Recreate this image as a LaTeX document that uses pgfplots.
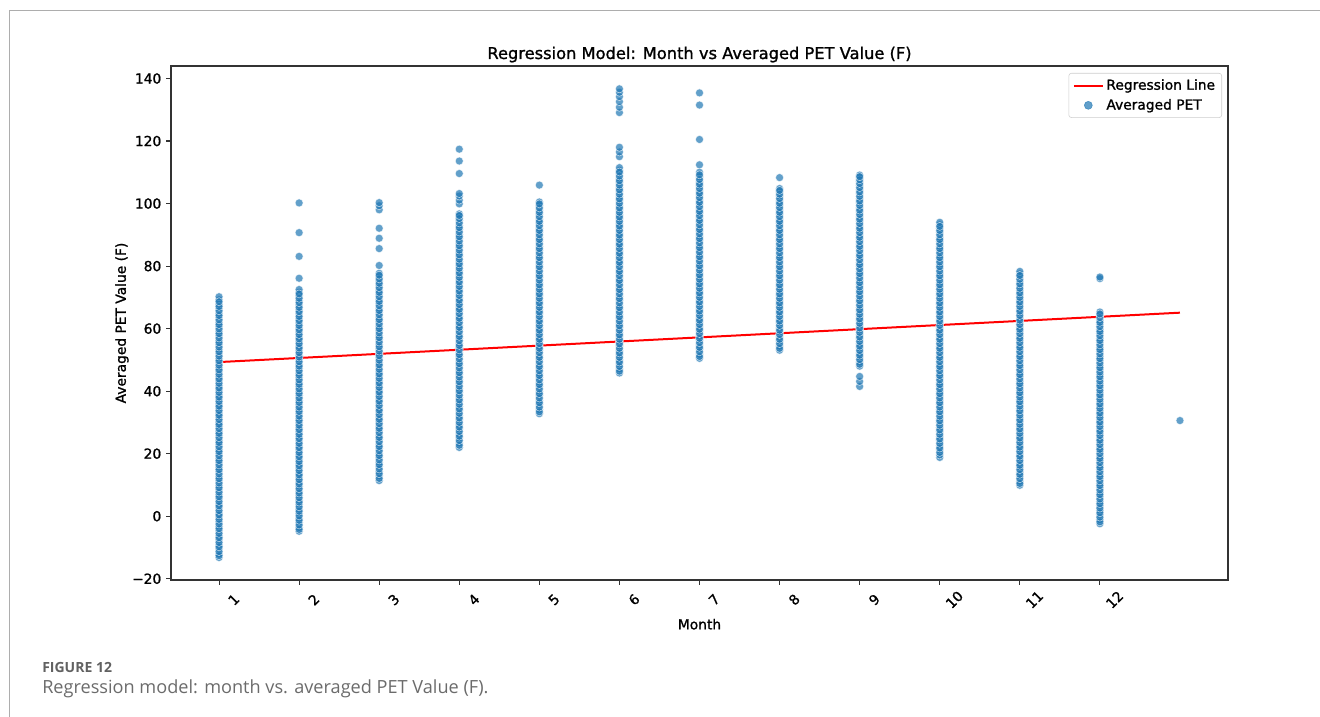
\documentclass[border=0pt]{standalone}
\usepackage{fontspec}
\setmainfont{DejaVu Sans}[FakeBold=1.2]
\newfontfamily\capfont{Open Sans}
\usepackage{pgfplots}
\pgfplotsset{compat=1.18}
\definecolor{mplblue}{HTML}{1F77B4}
\definecolor{spine}{HTML}{333333}
\begin{document}
\begin{tikzpicture}
\path[use as bounding box] (0,0) rectangle (990pt,537.75pt);
\draw[color=black!32, line width=0.75pt] (6.75pt,-2pt) -- (6.75pt,529.5pt) -- (995pt,529.5pt);
\begin{axis}[
 anchor=south west, at={(128.25pt,102.75pt)},
 width=792.75pt, height=385.5pt, scale only axis,
 xmin=0.4, xmax=13.6, ymin=-20.4, ymax=144,
 xtick={1,2,3,4,5,6,7,8,9,10,11,12},
 xticklabels={1,2,3,4,5,6,7,8,9,10,11,12},
 ytick={-20,0,20,40,60,80,100,120,140},
 yticklabels={−20,0,20,40,60,80,100,120,140},
 tick align=outside, tick pos=left, major tick length=3.75pt,
 axis line style={spine, line width=0.8pt},
 every tick/.style={spine, line width=0.8pt},
 tick label style={font=\fontsize{10.35}{12}\selectfont, text=black},
 xticklabel style={rotate=45, anchor=center, yshift=-15.5pt},
 title={Regression Model: Month vs Averaged PET Value (F)},
 title style={font=\fontsize{12.2}{14}\selectfont, anchor=base, at={(0.5,1)}, inner sep=0pt, yshift=-0.75pt},
 xlabel={Month},
 xlabel style={font=\fontsize{10.35}{12}\selectfont, at={(axis description cs:0.5,-0.086)}, anchor=center, inner sep=0pt},
 ylabel={Averaged PET Value (F)},
 ylabel style={font=\fontsize{10.35}{12}\selectfont, at={(axis description cs:-0.0464,0.5)}, anchor=center, inner sep=0pt},
 legend style={at={(1,1)}, anchor=north east, xshift=-4.5pt, yshift=-5.25pt, draw=black!20, rounded corners=2pt, fill=white, font=\fontsize{10.35}{12}\selectfont, row sep=1.5pt, inner xsep=3pt, inner ysep=2.5pt},
 legend cell align=left,
]
\addplot[red, line width=1.5pt, legend image code/.code={\draw[red, line width=1.5pt] (0pt,0pt) -- (21.75pt,0pt);}] coordinates {(1,49.3) (13,65.1)};
\addlegendentry{Regression Line}
\addplot[only marks, mark=*, mark size=3pt, mark options={fill=mplblue, draw=white, line width=0.4pt, opacity=0.7},
 legend image code/.code={\fill[mplblue, opacity=0.7] (10.9pt,0pt) circle (3pt);}] coordinates {
(1,-13.2) (1,-12.1) (1,-10.4) (1,-9.2) (1,-7.5) (1,-6.3) (1,-4.6) (1,-3.3) (1,-1.7) (1,-0.2) (1,1.0) (1,2.7) (1,3.9) (1,5.6) (1,6.9) (1,8.5) (1,9.8) (1,11.4) (1,12.7) (1,14.3) (1,15.6) (1,17.2) (1,18.5) (1,20.1) (1,21.4) (1,23.0) (1,24.3) (1,25.9) (1,27.2) (1,28.8) (1,30.1) (1,31.7) (1,33.0) (1,34.6) (1,35.9) (1,37.5) (1,38.8) (1,40.4) (1,41.7) (1,43.3) (1,44.6) (1,46.2) (1,47.5) (1,49.1) (1,50.4) (1,52.0) (1,53.3) (1,54.9) (1,56.2) (1,57.8) (1,59.1) (1,60.7) (1,62.0) (1,63.6) (1,64.9) (1,66.5) (1,67.8) (1,69.2) (1,70.2)
(1,-12.6) (1,-11.3) (1,-9.8) (1,-8.4) (1,-6.9) (1,-5.5) (1,-4.0) (1,-2.5) (1,-1.0) (1,0.4) (1,1.8) (1,3.3) (1,4.7) (1,6.2) (1,7.7) (1,9.1) (1,10.6) (1,12.0) (1,13.5) (1,14.9) (1,16.4) (1,17.8) (1,19.3) (1,20.7) (1,22.2) (1,23.6) (1,25.1) (1,26.5) (1,28.0) (1,29.4) (1,30.9) (1,32.3) (1,33.8) (1,35.2) (1,36.7) (1,38.1) (1,39.6) (1,41.0) (1,42.5) (1,43.9) (1,45.4) (1,46.8) (1,48.3) (1,49.7) (1,51.2) (1,52.6) (1,54.1) (1,55.5) (1,57.0) (1,58.4) (1,59.9) (1,61.3) (1,62.8) (1,64.2) (1,65.7) (1,67.1) (1,68.6)
(2,-4.8) (2,-3.6) (2,-2.0) (2,-0.7) (2,0.9) (2,2.2) (2,3.8) (2,5.1) (2,6.7) (2,8.0) (2,9.6) (2,10.9) (2,12.5) (2,13.8) (2,15.4) (2,16.7) (2,18.3) (2,19.6) (2,21.2) (2,22.5) (2,24.1) (2,25.4) (2,27.0) (2,28.3) (2,29.9) (2,31.2) (2,32.8) (2,34.1) (2,35.7) (2,37.0) (2,38.6) (2,39.9) (2,41.5) (2,42.8) (2,44.4) (2,45.7) (2,47.3) (2,48.6) (2,50.2) (2,51.5) (2,53.1) (2,54.4) (2,56.0) (2,57.3) (2,58.9) (2,60.2) (2,61.8) (2,63.1) (2,64.7) (2,66.0) (2,67.6) (2,68.9) (2,70.5) (2,71.6) (2,72.5) (2,76.1) (2,83.1) (2,90.7) (2,100.2)
(2,-4.2) (2,-2.8) (2,-1.3) (2,0.1) (2,1.6) (2,3.0) (2,4.5) (2,5.9) (2,7.4) (2,8.8) (2,10.3) (2,11.7) (2,13.2) (2,14.6) (2,16.1) (2,17.5) (2,19.0) (2,20.4) (2,21.9) (2,23.3) (2,24.8) (2,26.2) (2,27.7) (2,29.1) (2,30.6) (2,32.0) (2,33.5) (2,34.9) (2,36.4) (2,37.8) (2,39.3) (2,40.7) (2,42.2) (2,43.6) (2,45.1) (2,46.5) (2,48.0) (2,49.4) (2,50.9) (2,52.3) (2,53.8) (2,55.2) (2,56.7) (2,58.1) (2,59.6) (2,61.0) (2,62.5) (2,63.9) (2,65.4) (2,66.8) (2,68.3) (2,69.7) (2,71.1)
(3,11.4) (3,12.9) (3,14.3) (3,15.9) (3,17.2) (3,18.8) (3,20.1) (3,21.7) (3,23.0) (3,24.6) (3,25.9) (3,27.5) (3,28.8) (3,30.4) (3,31.7) (3,33.3) (3,34.6) (3,36.2) (3,37.5) (3,39.1) (3,40.4) (3,42.0) (3,43.3) (3,44.9) (3,46.2) (3,47.8) (3,49.1) (3,50.7) (3,52.0) (3,53.6) (3,54.9) (3,56.5) (3,57.8) (3,59.4) (3,60.7) (3,62.3) (3,63.6) (3,65.2) (3,66.5) (3,68.1) (3,69.4) (3,71.0) (3,72.3) (3,73.9) (3,75.2) (3,76.5) (3,77.7) (3,80.2) (3,85.6) (3,88.9) (3,92.1) (3,98.0) (3,99.3) (3,100.3)
(3,12.1) (3,13.6) (3,15.1) (3,16.5) (3,18.0) (3,19.4) (3,20.9) (3,22.3) (3,23.8) (3,25.2) (3,26.7) (3,28.1) (3,29.6) (3,31.0) (3,32.5) (3,33.9) (3,35.4) (3,36.8) (3,38.3) (3,39.7) (3,41.2) (3,42.6) (3,44.1) (3,45.5) (3,47.0) (3,48.4) (3,49.9) (3,51.3) (3,52.8) (3,54.2) (3,55.7) (3,57.1) (3,58.6) (3,60.0) (3,61.5) (3,62.9) (3,64.4) (3,65.8) (3,67.3) (3,68.7) (3,70.2) (3,71.6) (3,73.1) (3,74.5) (3,75.9) (3,77.1)
(4,22.0) (4,23.4) (4,25.0) (4,26.3) (4,27.9) (4,29.2) (4,30.8) (4,32.1) (4,33.7) (4,35.0) (4,36.6) (4,37.9) (4,39.5) (4,40.8) (4,42.4) (4,43.7) (4,45.3) (4,46.6) (4,48.2) (4,49.5) (4,51.1) (4,52.4) (4,54.0) (4,55.3) (4,56.9) (4,58.2) (4,59.8) (4,61.1) (4,62.7) (4,64.0) (4,65.6) (4,66.9) (4,68.5) (4,69.8) (4,71.4) (4,72.7) (4,74.3) (4,75.6) (4,77.2) (4,78.5) (4,80.1) (4,81.4) (4,83.0) (4,84.3) (4,85.9) (4,87.2) (4,88.8) (4,90.1) (4,91.7) (4,93.0) (4,94.6) (4,95.8) (4,96.7) (4,99.9) (4,101.1) (4,102.4) (4,103.2) (4,109.6) (4,113.6) (4,117.4)
(4,22.7) (4,24.2) (4,25.6) (4,27.1) (4,28.5) (4,30.0) (4,31.4) (4,32.9) (4,34.3) (4,35.8) (4,37.2) (4,38.7) (4,40.1) (4,41.6) (4,43.0) (4,44.5) (4,45.9) (4,47.4) (4,48.8) (4,50.3) (4,51.7) (4,53.2) (4,54.6) (4,56.1) (4,57.5) (4,59.0) (4,60.4) (4,61.9) (4,63.3) (4,64.8) (4,66.2) (4,67.7) (4,69.1) (4,70.6) (4,72.0) (4,73.5) (4,74.9) (4,76.4) (4,77.8) (4,79.3) (4,80.7) (4,82.2) (4,83.6) (4,85.1) (4,86.5) (4,88.0) (4,89.4) (4,90.9) (4,92.3) (4,93.8) (4,95.2) (4,96.2)
(5,32.8) (5,34.1) (5,35.7) (5,37.0) (5,38.6) (5,39.9) (5,41.5) (5,42.8) (5,44.4) (5,45.7) (5,47.3) (5,48.6) (5,50.2) (5,51.5) (5,53.1) (5,54.4) (5,56.0) (5,57.3) (5,58.9) (5,60.2) (5,61.8) (5,63.1) (5,64.7) (5,66.0) (5,67.6) (5,68.9) (5,70.5) (5,71.8) (5,73.4) (5,74.7) (5,76.3) (5,77.6) (5,79.2) (5,80.5) (5,82.1) (5,83.4) (5,85.0) (5,86.3) (5,87.9) (5,89.2) (5,90.8) (5,92.1) (5,93.7) (5,95.0) (5,96.6) (5,97.9) (5,99.3) (5,100.5) (5,105.9)
(5,33.4) (5,34.9) (5,36.3) (5,37.8) (5,39.2) (5,40.7) (5,42.1) (5,43.6) (5,45.0) (5,46.5) (5,47.9) (5,49.4) (5,50.8) (5,52.3) (5,53.7) (5,55.2) (5,56.6) (5,58.1) (5,59.5) (5,61.0) (5,62.4) (5,63.9) (5,65.3) (5,66.8) (5,68.2) (5,69.7) (5,71.1) (5,72.6) (5,74.0) (5,75.5) (5,76.9) (5,78.4) (5,79.8) (5,81.3) (5,82.7) (5,84.2) (5,85.6) (5,87.1) (5,88.5) (5,90.0) (5,91.4) (5,92.9) (5,94.3) (5,95.8) (5,97.2) (5,98.6) (5,99.9)
(6,45.8) (6,47.1) (6,48.7) (6,50.0) (6,51.6) (6,52.9) (6,54.5) (6,55.8) (6,57.4) (6,58.7) (6,60.3) (6,61.6) (6,63.2) (6,64.5) (6,66.1) (6,67.4) (6,69.0) (6,70.3) (6,71.9) (6,73.2) (6,74.8) (6,76.1) (6,77.7) (6,79.0) (6,80.6) (6,81.9) (6,83.5) (6,84.8) (6,86.4) (6,87.7) (6,89.3) (6,90.6) (6,92.2) (6,93.5) (6,95.1) (6,96.4) (6,98.0) (6,99.3) (6,100.9) (6,102.2) (6,103.8) (6,105.1) (6,106.7) (6,108.0) (6,109.6) (6,110.6) (6,111.5) (6,115.0) (6,116.5) (6,118.0) (6,129.1) (6,130.8) (6,132.6) (6,134.2) (6,135.6) (6,136.7)
(6,46.4) (6,47.9) (6,49.3) (6,50.8) (6,52.2) (6,53.7) (6,55.1) (6,56.6) (6,58.0) (6,59.5) (6,60.9) (6,62.4) (6,63.8) (6,65.3) (6,66.7) (6,68.2) (6,69.6) (6,71.1) (6,72.5) (6,74.0) (6,75.4) (6,76.9) (6,78.3) (6,79.8) (6,81.2) (6,82.7) (6,84.1) (6,85.6) (6,87.0) (6,88.5) (6,89.9) (6,91.4) (6,92.8) (6,94.3) (6,95.7) (6,97.2) (6,98.6) (6,100.1) (6,101.5) (6,103.0) (6,104.4) (6,105.9) (6,107.3) (6,108.8) (6,110.1)
(7,50.5) (7,51.8) (7,53.4) (7,54.7) (7,56.3) (7,57.6) (7,59.2) (7,60.5) (7,62.1) (7,63.4) (7,65.0) (7,66.3) (7,67.9) (7,69.2) (7,70.8) (7,72.1) (7,73.7) (7,75.0) (7,76.6) (7,77.9) (7,79.5) (7,80.8) (7,82.4) (7,83.7) (7,85.3) (7,86.6) (7,88.2) (7,89.5) (7,91.1) (7,92.4) (7,94.0) (7,95.3) (7,96.9) (7,98.2) (7,99.8) (7,101.1) (7,102.7) (7,104.0) (7,105.6) (7,106.9) (7,108.5) (7,110.0) (7,112.4) (7,120.5) (7,131.5) (7,135.4)
(7,51.1) (7,52.6) (7,54.0) (7,55.5) (7,56.9) (7,58.4) (7,59.8) (7,61.3) (7,62.7) (7,64.2) (7,65.6) (7,67.1) (7,68.5) (7,70.0) (7,71.4) (7,72.9) (7,74.3) (7,75.8) (7,77.2) (7,78.7) (7,80.1) (7,81.6) (7,83.0) (7,84.5) (7,85.9) (7,87.4) (7,88.8) (7,90.3) (7,91.7) (7,93.2) (7,94.6) (7,96.1) (7,97.5) (7,99.0) (7,100.4) (7,101.9) (7,103.3) (7,104.8) (7,106.2) (7,107.7) (7,109.2)
(8,53.1) (8,54.4) (8,56.0) (8,57.3) (8,58.9) (8,60.2) (8,61.8) (8,63.1) (8,64.7) (8,66.0) (8,67.6) (8,68.9) (8,70.5) (8,71.8) (8,73.4) (8,74.7) (8,76.3) (8,77.6) (8,79.2) (8,80.5) (8,82.1) (8,83.4) (8,85.0) (8,86.3) (8,87.9) (8,89.2) (8,90.8) (8,92.1) (8,93.7) (8,95.0) (8,96.6) (8,97.9) (8,99.5) (8,100.8) (8,102.4) (8,103.7) (8,104.8) (8,108.3)
(8,53.7) (8,55.2) (8,56.6) (8,58.1) (8,59.5) (8,61.0) (8,62.4) (8,63.9) (8,65.3) (8,66.8) (8,68.2) (8,69.7) (8,71.1) (8,72.6) (8,74.0) (8,75.5) (8,76.9) (8,78.4) (8,79.8) (8,81.3) (8,82.7) (8,84.2) (8,85.6) (8,87.1) (8,88.5) (8,90.0) (8,91.4) (8,92.9) (8,94.3) (8,95.8) (8,97.2) (8,98.7) (8,100.1) (8,101.6) (8,103.0) (8,104.2)
(9,41.5) (9,43.1) (9,44.7) (9,48.0) (9,49.3) (9,50.9) (9,52.2) (9,53.8) (9,55.1) (9,56.7) (9,58.0) (9,59.6) (9,60.9) (9,62.5) (9,63.8) (9,65.4) (9,66.7) (9,68.3) (9,69.6) (9,71.2) (9,72.5) (9,74.1) (9,75.4) (9,77.0) (9,78.3) (9,79.9) (9,81.2) (9,82.8) (9,84.1) (9,85.7) (9,87.0) (9,88.6) (9,89.9) (9,91.5) (9,92.8) (9,94.4) (9,95.7) (9,97.3) (9,98.6) (9,100.2) (9,101.5) (9,103.1) (9,104.4) (9,105.8) (9,107.0) (9,108.2) (9,109.1)
(9,48.6) (9,50.1) (9,51.5) (9,53.0) (9,54.4) (9,55.9) (9,57.3) (9,58.8) (9,60.2) (9,61.7) (9,63.1) (9,64.6) (9,66.0) (9,67.5) (9,68.9) (9,70.4) (9,71.8) (9,73.3) (9,74.7) (9,76.2) (9,77.6) (9,79.1) (9,80.5) (9,82.0) (9,83.4) (9,84.9) (9,86.3) (9,87.8) (9,89.2) (9,90.7) (9,92.1) (9,93.6) (9,95.0) (9,96.5) (9,97.9) (9,99.4) (9,100.8) (9,102.3) (9,103.7) (9,105.1) (9,106.4) (9,107.6) (9,108.6)
(10,18.8) (10,19.6) (10,21.2) (10,22.5) (10,24.1) (10,25.4) (10,27.0) (10,28.3) (10,29.9) (10,31.2) (10,32.8) (10,34.1) (10,35.7) (10,37.0) (10,38.6) (10,39.9) (10,41.5) (10,42.8) (10,44.4) (10,45.7) (10,47.3) (10,48.6) (10,50.2) (10,51.5) (10,53.1) (10,54.4) (10,56.0) (10,57.3) (10,58.9) (10,60.2) (10,61.8) (10,63.1) (10,64.7) (10,66.0) (10,67.6) (10,68.9) (10,70.5) (10,71.8) (10,73.4) (10,74.7) (10,76.3) (10,77.6) (10,79.2) (10,80.5) (10,82.1) (10,83.4) (10,85.0) (10,86.3) (10,87.9) (10,89.2) (10,90.8) (10,92.1) (10,93.2) (10,94.0)
(10,20.4) (10,21.8) (10,23.3) (10,24.7) (10,26.2) (10,27.6) (10,29.1) (10,30.5) (10,32.0) (10,33.4) (10,34.9) (10,36.3) (10,37.8) (10,39.2) (10,40.7) (10,42.1) (10,43.6) (10,45.0) (10,46.5) (10,47.9) (10,49.4) (10,50.8) (10,52.3) (10,53.7) (10,55.2) (10,56.6) (10,58.1) (10,59.5) (10,61.0) (10,62.4) (10,63.9) (10,65.3) (10,66.8) (10,68.2) (10,69.7) (10,71.1) (10,72.6) (10,74.0) (10,75.5) (10,76.9) (10,78.4) (10,79.8) (10,81.3) (10,82.7) (10,84.2) (10,85.6) (10,87.1) (10,88.5) (10,90.0) (10,91.4) (10,92.7)
(11,9.9) (11,11.2) (11,12.8) (11,14.1) (11,15.7) (11,17.0) (11,18.6) (11,19.9) (11,21.5) (11,22.8) (11,24.4) (11,25.7) (11,27.3) (11,28.6) (11,30.2) (11,31.5) (11,33.1) (11,34.4) (11,36.0) (11,37.3) (11,38.9) (11,40.2) (11,41.8) (11,43.1) (11,44.7) (11,46.0) (11,47.6) (11,48.9) (11,50.5) (11,51.8) (11,53.4) (11,54.7) (11,56.3) (11,57.6) (11,59.2) (11,60.5) (11,62.1) (11,63.4) (11,65.0) (11,66.3) (11,67.9) (11,69.2) (11,70.8) (11,72.1) (11,73.7) (11,75.0) (11,76.6) (11,77.5) (11,78.3)
(11,10.5) (11,12.0) (11,13.4) (11,14.9) (11,16.3) (11,17.8) (11,19.2) (11,20.7) (11,22.1) (11,23.6) (11,25.0) (11,26.5) (11,27.9) (11,29.4) (11,30.8) (11,32.3) (11,33.7) (11,35.2) (11,36.6) (11,38.1) (11,39.5) (11,41.0) (11,42.4) (11,43.9) (11,45.3) (11,46.8) (11,48.2) (11,49.7) (11,51.1) (11,52.6) (11,54.0) (11,55.5) (11,56.9) (11,58.4) (11,59.8) (11,61.3) (11,62.7) (11,64.2) (11,65.6) (11,67.1) (11,68.5) (11,70.0) (11,71.4) (11,72.9) (11,74.3) (11,75.8) (11,77.0)
(12,-2.4) (12,-1.1) (12,0.5) (12,1.8) (12,3.4) (12,4.7) (12,6.3) (12,7.6) (12,9.2) (12,10.5) (12,12.1) (12,13.4) (12,15.0) (12,16.3) (12,17.9) (12,19.2) (12,20.8) (12,22.1) (12,23.7) (12,25.0) (12,26.6) (12,27.9) (12,29.5) (12,30.8) (12,32.4) (12,33.7) (12,35.3) (12,36.6) (12,38.2) (12,39.5) (12,41.1) (12,42.4) (12,44.0) (12,45.3) (12,46.9) (12,48.2) (12,49.8) (12,51.1) (12,52.7) (12,54.0) (12,55.6) (12,56.9) (12,58.5) (12,59.8) (12,61.4) (12,62.7) (12,64.2) (12,65.3) (12,76.0) (12,76.5)
(12,-1.8) (12,-0.3) (12,1.1) (12,2.6) (12,4.0) (12,5.5) (12,6.9) (12,8.4) (12,9.8) (12,11.3) (12,12.7) (12,14.2) (12,15.6) (12,17.1) (12,18.5) (12,20.0) (12,21.4) (12,22.9) (12,24.3) (12,25.8) (12,27.2) (12,28.7) (12,30.1) (12,31.6) (12,33.0) (12,34.5) (12,35.9) (12,37.4) (12,38.8) (12,40.3) (12,41.7) (12,43.2) (12,44.6) (12,46.1) (12,47.5) (12,49.0) (12,50.4) (12,51.9) (12,53.3) (12,54.8) (12,56.2) (12,57.7) (12,59.1) (12,60.6) (12,62.0) (12,63.5) (12,64.7)
(13,30.6)
};
\addlegendentry{Averaged PET}
\end{axis}
\node[anchor=base west, inner sep=0pt, font=\capfont\bfseries\fontsize{10.5}{12}\selectfont, text=black!62] at (31.5pt,33pt) {FIGURE 12};
\node[anchor=base west, inner sep=0pt, font=\capfont\fontsize{13.6}{15}\selectfont, text=black!58] at (31.5pt,17.25pt) {Regression model: month vs. averaged PET Value (F).};
\end{tikzpicture}
\end{document}
